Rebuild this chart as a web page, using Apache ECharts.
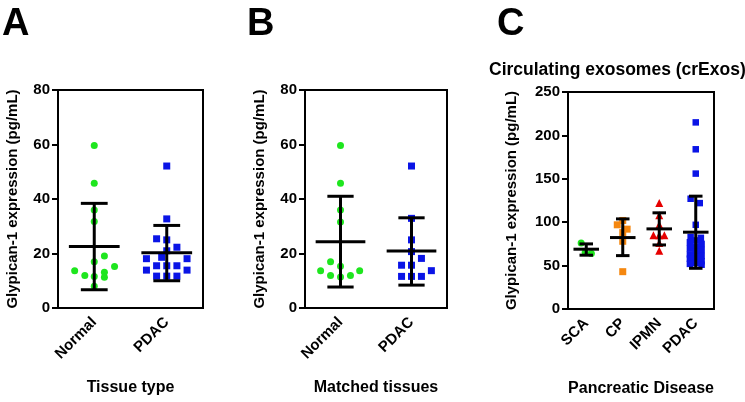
<!DOCTYPE html>
<html><head><meta charset="utf-8">
<script src="https://cdn.jsdelivr.net/npm/echarts@6/dist/echarts.min.js"></script>
<style>html,body{margin:0;padding:0;background:#fff}#c{width:745px;height:402px}</style>
</head><body><div id="c"></div>
<script>
// ---- data ----
const catsA = ['Normal', 'PDAC'];
const valsA_Normal = [59.6, 45.8, 36, 31.7, 19.1, 17, 15.2, 13.7, 13.1, 11.9, 11.6, 11.3, 8.0];
const jitA_Normal  = [0, 0, 0, 0, 0.14, 0, 0.28, -0.27, 0.14, -0.13, 0, 0.14, 0];
const valsA_PDAC   = [52.1, 32.7, 25.4, 25.0, 22.3, 21.0, 18.6, 18.1, 18.1, 15.5, 15.5, 15.5, 13.9, 13.9, 11.7, 11.7, 11.7];
const jitA_PDAC    = [0, 0, -0.14, 0, 0.14, 0, -0.07, -0.28, 0.28, -0.14, 0, 0.14, -0.28, 0.28, -0.14, 0, 0.14];
const statsA = [[22.6, 6.7, 38.4], [20.3, 10.0, 30.3]]; // mean, lower, upper

const catsB = ['Normal', 'PDAC'];
const valsB_Normal = [59.6, 45.8, 36, 31.6, 17.0, 15.3, 13.7, 13.7, 11.9, 11.9, 11.4];
const jitB_Normal  = [0, 0, 0, 0, -0.14, 0, -0.28, 0.27, -0.14, 0.14, 0];
const valsB_PDAC   = [52.1, 32.9, 25.0, 20.7, 18.2, 15.7, 15.7, 13.7, 11.6, 11.6, 11.6];
const jitB_PDAC    = [0, 0, 0, 0, 0.14, -0.14, 0, 0.28, -0.14, 0, 0.14];
const statsB = [[24.3, 7.7, 41.0], [20.9, 8.4, 33.1]];

const catsC = ['SCA', 'CP', 'IPMN', 'PDAC'];
const valsC_SCA  = [76, 65, 64];
const jitC_SCA   = [-0.14, -0.03, 0.14];
const valsC_CP   = [102, 97, 92, 88, 78, 43];
const jitC_CP    = [0, -0.15, 0.12, 0, 0, 0];
const valsC_IPMN = [122, 108, 97, 85, 85, 85, 76, 67];
const jitC_IPMN  = [0, 0, 0, -0.16, 0, 0.14, 0, 0];
const valsC_PDAC = [215, 184, 156, 127, 122, 97, 83, 82, 79, 77, 75, 72, 70, 68, 66, 63, 61, 60, 58, 55, 53, 52, 51];
const jitC_PDAC  = [0, 0, 0, -0.14, 0.11, 0, -0.14, 0.14, 0, -0.16, 0.16, 0, -0.16, 0.16, 0, -0.16, 0.16, 0, -0.16, 0.16, 0, -0.16, 0.16];
const statsC = [[68.9, 62, 75], [82.3, 61.5, 103.8], [92.3, 73.8, 110.8], [88.5, 46.9, 130]];

const yTitle = 'Glypican-1 expression (pg/mL)';
// ---- chart ----
const FONT = "'Liberation Sans', Arial, sans-serif";
const NARROW = "'Liberation Sans Narrow', 'Liberation Sans', Arial, sans-serif";
const GREEN = '#1ee61e', BLUE = '#0a14e6', ORANGE = '#f5870f', RED = '#e60000';

const grids = [
  {left: 58, top: 90, width: 145, height: 218},
  {left: 305, top: 90, width: 142, height: 218},
  {left: 568, top: 92, width: 146, height: 217}
].map(g => Object.assign(g, {show: true, borderColor: '#000', borderWidth: 2, backgroundColor: 'transparent'}));

const xAxis = [], yAxis = [], series = [];
function panel(gi, cats, groups, stats, ymax, yint, xname, yGap) {
  xAxis.push({
    type: 'category', gridIndex: gi, data: cats, name: xname, nameLocation: 'middle', nameGap: 72,
    nameTextStyle: {fontFamily: FONT, fontWeight: 'bold', fontSize: 16, color: '#000'},
    axisLine: {onZero: false, lineStyle: {color: '#000', width: 2}},
    axisTick: {alignWithLabel: true, length: 6, lineStyle: {color: '#000', width: 2}},
    axisLabel: {rotate: 45, margin: 12, fontFamily: FONT, fontWeight: 'bold', fontSize: 15, color: '#000'},
    splitLine: {show: false}
  });
  const vxi = xAxis.length;
  xAxis.push({type: 'value', gridIndex: gi, min: -0.5, max: cats.length - 0.5, show: false,
    axisLine: {show: false, onZero: false}, splitLine: {show: false}});
  yAxis.push({
    type: 'value', gridIndex: gi, min: 0, max: ymax, interval: yint,
    name: yTitle, nameLocation: 'middle', nameGap: yGap,
    nameTextStyle: {fontFamily: FONT, fontWeight: 'bold', fontSize: 15, color: '#000'},
    axisLine: {show: true, onZero: false, lineStyle: {color: '#000', width: 2}},
    axisTick: {show: true, length: 6, lineStyle: {color: '#000', width: 2}},
    axisLabel: {margin: 8, fontFamily: FONT, fontWeight: 'bold', fontSize: 15, color: '#000'},
    splitLine: {show: false}
  });
  groups.forEach((g, c) => {
    series.push({
      type: 'scatter', xAxisIndex: vxi, yAxisIndex: gi, symbol: g.symbol, symbolSize: g.size,
      itemStyle: {color: g.color, opacity: 1}, z: 2, silent: true,
      data: g.vals.map((v, k) => [c + g.jit[k], v])
    });
  });
  series.push({
    type: 'custom', xAxisIndex: vxi, yAxisIndex: gi, z: 5, silent: true,
    data: stats.map((s, c) => [c, s[0], s[1], s[2]]),
    renderItem: function (params, api) {
      const c = api.value(0);
      const pm = api.coord([c, api.value(1)]);
      const pl = api.coord([c, api.value(2)]);
      const ph = api.coord([c, api.value(3)]);
      const bw = api.size([1, 0])[0];
      const hw = bw * 0.35, cw = bw * 0.185;
      const st = {stroke: '#000', lineWidth: 3};
      const L = (x1, y1, x2, y2) => ({type: 'line', shape: {x1, y1, x2, y2}, style: st});
      return {type: 'group', children: [
        L(pm[0], ph[1], pm[0], pl[1]),
        L(pm[0] - hw, pm[1], pm[0] + hw, pm[1]),
        L(pm[0] - cw, ph[1], pm[0] + cw, ph[1]),
        L(pm[0] - cw, pl[1], pm[0] + cw, pl[1])
      ]};
    }
  });
}

panel(0, catsA, [
  {vals: valsA_Normal, jit: jitA_Normal, color: GREEN, symbol: 'circle', size: 7},
  {vals: valsA_PDAC, jit: jitA_PDAC, color: BLUE, symbol: 'rect', size: 7}
], statsA, 80, 20, 'Tissue type', 38);
panel(1, catsB, [
  {vals: valsB_Normal, jit: jitB_Normal, color: GREEN, symbol: 'circle', size: 7},
  {vals: valsB_PDAC, jit: jitB_PDAC, color: BLUE, symbol: 'rect', size: 7}
], statsB, 80, 20, 'Matched tissues', 38);
panel(2, catsC, [
  {vals: valsC_SCA, jit: jitC_SCA, color: GREEN, symbol: 'circle', size: 7},
  {vals: valsC_CP, jit: jitC_CP, color: ORANGE, symbol: 'rect', size: 7},
  {vals: valsC_IPMN, jit: jitC_IPMN, color: RED, symbol: 'triangle', size: 8},
  {vals: valsC_PDAC, jit: jitC_PDAC, color: BLUE, symbol: 'rect', size: 6.5}
], statsC, 250, 50, 'Pancreatic Disease', 49);

const titleStyle = {fontFamily: NARROW, fontWeight: 'bold', fontSize: 38, color: '#000'};
const chart = echarts.init(document.getElementById('c'), null, {renderer: 'canvas'});
chart.setOption({
  animation: false,
  backgroundColor: '#fff',
  title: [
    {text: 'A', left: -3, top: 1, textStyle: titleStyle},
    {text: 'B', left: 242, top: 1, textStyle: titleStyle},
    {text: 'C', left: 492, top: 1, textStyle: titleStyle},
    {text: 'Circulating exosomes (crExos)', left: 484, top: 56, textStyle: {fontFamily: FONT, fontWeight: 'bold', fontSize: 17.5, color: '#000'}}
  ],
  grid: grids, xAxis, yAxis, series
});
</script></body></html>
